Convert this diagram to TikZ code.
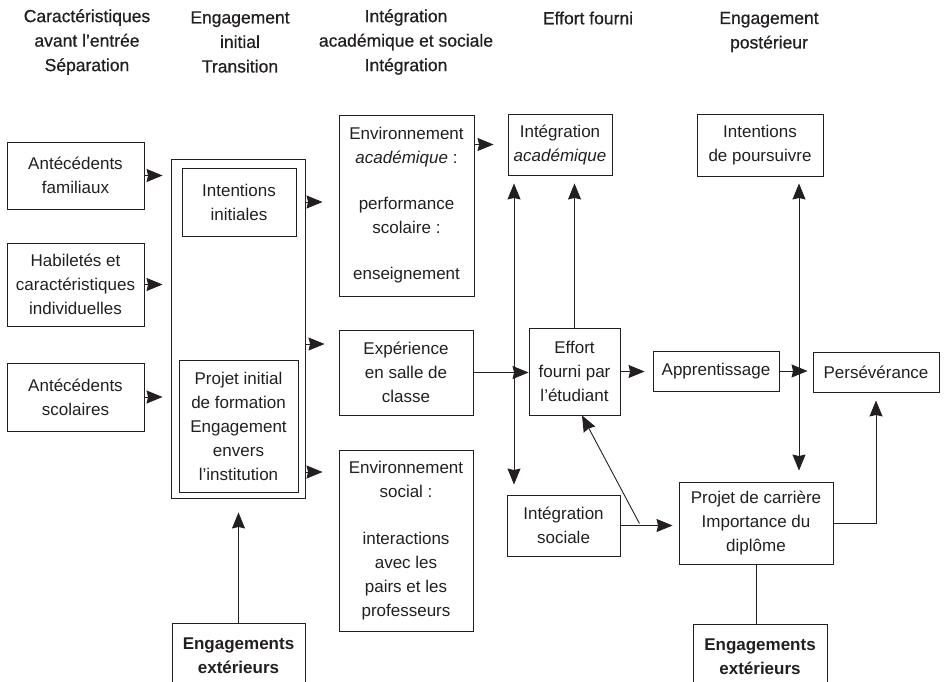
\documentclass[tikz,border=0pt]{standalone}
\usepackage{fontspec}
\setmainfont{Liberation Sans}
\newfontfamily\hdrfont[FakeBold=0.7]{Liberation Sans}
\usetikzlibrary{arrows.meta,calc}
\definecolor{ink}{HTML}{231F20}
\tikzset{
  box/.style={draw=ink, line width=0.9pt, inner sep=0pt, align=center,
    font=\fontsize{17}{24}\selectfont, text=ink},
  boldbox/.style={box, font=\fontsize{17}{24}\selectfont\bfseries},
  hdr/.style={align=center, font=\hdrfont\fontsize{17.5}{24.5}\selectfont, text=ink},
  tip/.tip={Stealth[length=16pt,width=13pt,inset=1.5pt]},
  arr/.style={draw=ink, line width=0.9pt, -tip},
  darr/.style={draw=ink, line width=0.9pt, tip-tip},
  ln/.style={draw=ink, line width=0.9pt}
}
\begin{document}
\begin{tikzpicture}[x=1pt,y=-1pt]
\useasboundingbox (0,0) rectangle (944,681);

% headers
\node[hdr] (h1) at (87,42) {Caractéristiques\\avant l’entrée\\Séparation};
\node[hdr] (h2) at (240,42) {Engagement\\initial\\Transition};
\node[hdr] (h3) at (406,42) {Intégration\\académique et sociale\\Intégration};
\node[hdr] (h4) at (588,18) {Effort fourni};
\node[hdr] (h5) at (769,32) {Engagement\\postérieur};

% column 1
\node[box, minimum width=137, minimum height=67] (af) at (75.5,175.5) {Antécédents\\familiaux};
\node[box, minimum width=137, minimum height=83] (hab) at (75.5,284.5) {Habiletés et\\caractéristiques\\individuelles};
\node[box, minimum width=137, minimum height=68] (as) at (75.5,397) {Antécédents\\scolaires};

% column 2
\node[box, minimum width=134, minimum height=339] (outer) at (238,328.5) {};
\node[box, minimum width=114, minimum height=68] (ii) at (239,202) {Intentions\\initiales};
\node[box, minimum width=119, minimum height=132] (pif) at (238.5,426) {Projet initial\\de formation\\Engagement\\envers\\l’institution};
\node[boldbox, anchor=north, minimum width=133, inner ysep=14pt] (ee1) at (238.5,623) {Engagements\\extérieurs};

% column 3
\node[box, minimum width=135, minimum height=181] (ea) at (406.5,205.5) {Environnement\\\textit{académique} :\\[22pt]performance\\scolaire :\\[22pt]enseignement};
\node[box, minimum width=134, minimum height=85] (exp) at (406,372.5) {Expérience\\en salle de\\classe};
\node[box, minimum width=134, minimum height=181] (es) at (406,540.5) {Environnement\\social :\\[23pt]interactions\\avec les\\pairs et les\\professeurs};

% column 4
\node[box, minimum width=104, minimum height=61] (ia) at (560,144.5) {Intégration\\\textit{académique}};
\node[box, minimum width=91, minimum height=87] (eff) at (574.5,371.5) {Effort\\fourni par\\l’étudiant};
\node[box, minimum width=113, minimum height=61] (is) at (563.5,525.5) {Intégration\\sociale};

% column 5
\node[box, minimum width=126, minimum height=62] (ip) at (760,145) {Intentions\\de poursuivre};
\node[box, minimum width=126, minimum height=40] (app) at (716,371) {Apprentissage};
\node[box, minimum width=126, minimum height=40] (per) at (876,372) {Persévérance};
\node[box, minimum width=154, minimum height=82] (pc) at (756,523) {Projet de carrière\\Importance du\\diplôme};
\node[boldbox, anchor=north, minimum width=134, inner ysep=14pt] (ee2) at (760,624) {Engagements\\extérieurs};

% connectors: column 1 -> column 2
\draw[arr, shorten >=8pt] (af.east) -- (af.east -| outer.west);
\draw[arr, shorten >=8pt] (hab.east) -- (hab.east -| outer.west);
\draw[arr, shorten >=8pt] (as.east) -- (as.east -| outer.west);

% column 2 -> column 3
\draw[arr, shorten >=16pt] (ii.east -| outer.east) -- (ii.east -| ea.west);
\coordinate (o2) at ($(outer.east)+(0,15.5)$);
\draw[arr, shorten >=14pt] (o2) -- (o2 -| exp.west);
\coordinate (o3) at ($(outer.east)+(0,143.5)$);
\draw[arr, shorten >=16pt] (o3) -- (o3 -| es.west);
\draw[arr, shorten >=14pt] (ee1.north) -- (ee1.north |- outer.south);

% column 3 -> column 4
\draw[arr, shorten >=14pt] (ia.west -| ea.east) -- (ia.west);
\draw[arr] (exp.east) -- (exp.east -| eff.west);
\coordinate (vx) at (514,0);
\draw[darr, shorten <=8pt, shorten >=10pt] (vx |- ia.south) -- (vx |- is.north);
\draw[arr, shorten >=8pt] (eff.north) -- (eff.north |- ia.south);

% column 4 -> column 5
\draw[arr, shorten >=8pt] (eff.east) -- (eff.east -| app.west);
\draw[arr, shorten >=5pt] (app.east) -- (app.east -| per.west);
\coordinate (vx2) at (799,0);
\draw[darr, shorten <=7pt, shorten >=11pt] (vx2 |- ip.south) -- (vx2 |- pc.north);
\draw[arr, shorten >=6pt] (is.east) -- (is.east -| pc.west);
\coordinate (dg) at ($(is.east)+(19,-2)$);
\draw[arr] (dg) -- ($(eff.south)+(7.5,0)$);
\draw[arr, shorten >=8pt] (pc.east) -| (per.south);
\draw[ln] (pc.south) -- (pc.south |- ee2.north);
\end{tikzpicture}
\end{document}
